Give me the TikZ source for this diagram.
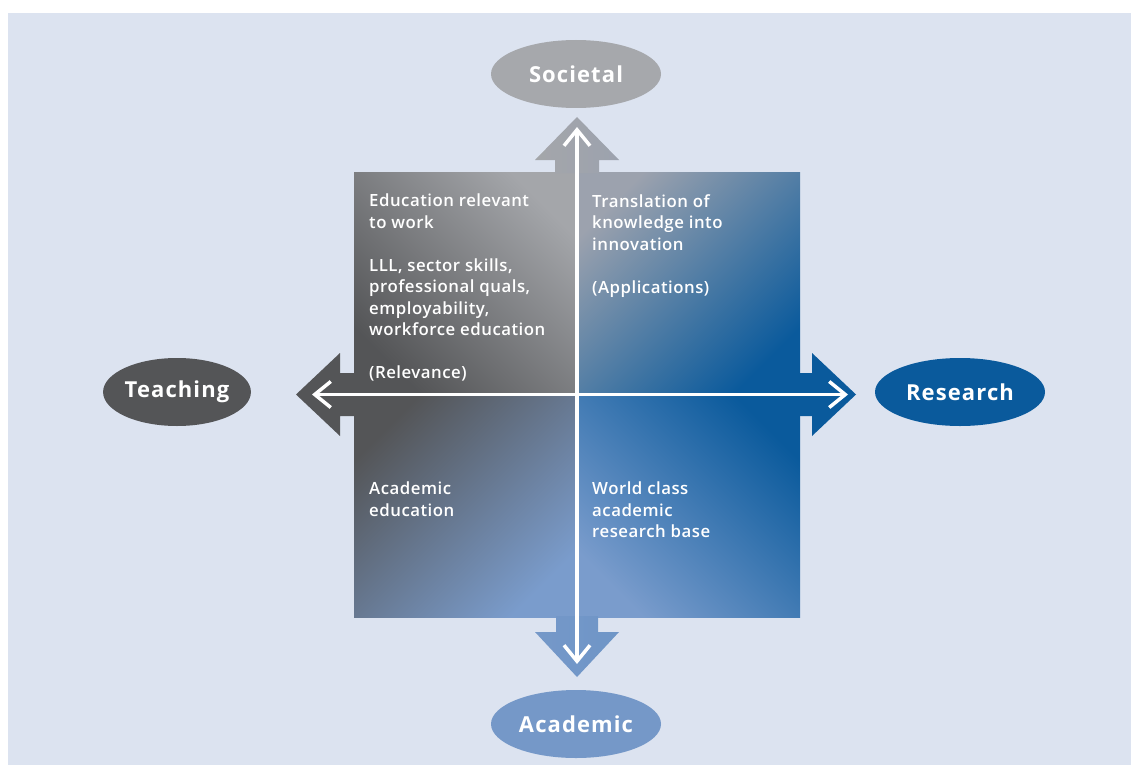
\documentclass[tikz,border=0pt]{standalone}
\usepackage{fontspec}
\setmainfont{Open Sans}
\IfFontExistsTF{Open Sans Semibold}
  {\newfontfamily\semifont{Open Sans Semibold}[LetterSpace=3]}
  {\IfFontExistsTF{Open Sans SemiBold}
    {\newfontfamily\semifont{Open Sans SemiBold}[LetterSpace=3]}
    {\newfontfamily\semifont{Open Sans}[LetterSpace=4,FakeBold=2.5]}}
\newfontfamily\polefont{Open Sans Bold}[LetterSpace=5]
\usetikzlibrary{shapes.geometric,arrows.meta}
\definecolor{bg}{HTML}{DCE3F0}
\definecolor{dkgray}{HTML}{545557}
\definecolor{ltgray}{HTML}{A4A6AA}
\definecolor{ltgraybl}{HTML}{9CA2AE}
\definecolor{dkblue}{HTML}{0A5A9C}
\definecolor{ltblue}{HTML}{7A9CCC}
\definecolor{socgray}{HTML}{A6A8AC}
\definecolor{acablue}{HTML}{7598C8}
\tikzset{
  qtext/.style={text=white, font=\semifont\fontsize{16.8}{21.5}\selectfont, align=left, inner sep=0pt, anchor=north west},
  pole/.style={ellipse, text=white, font=\polefont\fontsize{22}{24}\selectfont, minimum width=170, minimum height=68, inner sep=0pt},
  axis/.style={white, line width=3.5pt, {Straight Barb[length=16pt,width=26pt]}-{Straight Barb[length=16pt,width=26pt]}}
}
\begin{document}
\begin{tikzpicture}[x=1pt,y=-1pt]
\useasboundingbox (0,0) rectangle (1131,765);
\fill[white] (0,0) rectangle (1131,765);
\fill[bg] (8,13) rectangle (1131,765);
% quadrants
\shade[left color=ltgray,right color=dkgray,shading angle=-45] (354,172) rectangle (577,394);
\shade[left color=ltgraybl,right color=dkblue,shading angle=45] (577,172) rectangle (800,394);
\shade[left color=dkgray,right color=ltblue,shading angle=45] (354,394) rectangle (577,617);
\shade[left color=dkblue,right color=ltblue,shading angle=-45] (577,394) rectangle (800,617);
% block arrows
\shade[left color=ltgray,right color=ltgraybl] (555,173) -- (555,160) -- (535,160) -- (577,117) -- (619,160) -- (599,160) -- (599,173) -- cycle;
\fill[dkgray] (355,373) -- (340,373) -- (340,353) -- (296,394.5) -- (340,436) -- (340,416) -- (355,416) -- cycle;
\fill[dkblue] (799,373) -- (812,373) -- (812,353) -- (856,394.5) -- (812,436) -- (812,416) -- (799,416) -- cycle;
\shade[left color=acablue,right color=ltblue!90!dkblue] (556,616) -- (556,632) -- (535,632) -- (577,677) -- (619,632) -- (598,632) -- (598,616) -- cycle;
% white axes
\coordinate (vt) at (577,127);
\coordinate (vb) at (577,664);
\coordinate (hl) at (312,394.5);
\coordinate (hr) at (848,394.5);
\draw[axis] (vt) -- (vb);
\draw[axis] (hl) -- (hr);
% poles
\node[pole, fill=socgray] (soc) at (576,74) {Societal};
\node[pole, fill=acablue] (aca) at (576,724) {Academic};
\node[pole, fill=dkgray, minimum width=140] (tea) at (177,392) {Teaching};
\node[pole, fill=dkblue] (res) at (960,392) {Research};
% quadrant texts
\node[qtext] (tl) at (369,194) {Education relevant\\to work\\[21.5pt]LLL, sector skills,\\professional quals,\\employability,\\workforce education\\[21.5pt](Relevance)};
\node[qtext] (tr) at (592,194) {Translation of\\knowledge into\\innovation\\[21.5pt](Applications)};
\node[qtext] (bl) at (369,482) {Academic\\education};
\node[qtext] (br) at (592,482) {World class\\academic\\research base};
\end{tikzpicture}
\end{document}
